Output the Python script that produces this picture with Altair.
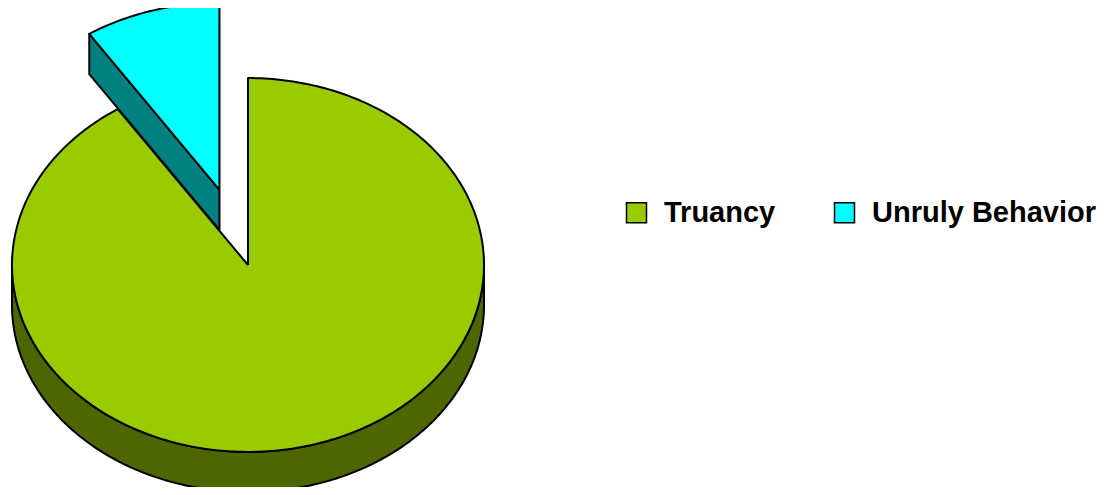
import altair as alt
import numpy as np
import pandas as pd

# ---- data ----
categories = ["Truancy", "Unruly Behavior"]
values = [90.7, 9.3]
top_colors = ["#99CC00", "#00FFFF"]
side_colors = ["#4D6600", "#008080"]
explode = [0.0, 0.42]   # radial pull-out of each slice (fraction of radius)

# ---- 3-D pie styling ----
TILT = 0.792     # vertical squash of the pie's top face
DEPTH = 0.17     # thickness of the pie
STEP = 1.0       # degrees per arc sample


def point(t_deg, cx, cy, drop=0.0):
    t = np.radians(t_deg)
    return cx + np.sin(t), cy + TILT * np.cos(t) - drop


def arc(a0, a1):
    n = max(2, int(abs(a1 - a0) / STEP) + 1)
    return np.linspace(a0, a1, n)


total = float(sum(values))
bounds = np.concatenate([[0.0], np.cumsum(values) / total * 360.0])

top_rows, side_rows = [], []
for k, cat in enumerate(categories):
    s, e = bounds[k], bounds[k + 1]
    mid = np.radians((s + e) / 2.0)
    cx = explode[k] * np.sin(mid)
    cy = explode[k] * TILT * np.cos(mid)

    # top face
    pts = [(cx, cy)] + [point(t, cx, cy) for t in arc(s, e)] + [(cx, cy)]
    for i, (x, y) in enumerate(pts):
        top_rows.append(dict(piece=f"top{k}", category=cat, i=i, x=x, y=y))

    # visible outer rim (front half: 90..270 deg)
    lo, hi = max(s, 90.0), min(e, 270.0)
    pieces = []
    if hi > lo:
        rim = arc(lo, hi)
        p = [point(t, cx, cy) for t in rim] + [point(t, cx, cy, DEPTH) for t in rim[::-1]]
        p.append(p[0])
        pieces.append(p)
    # visible cut faces
    if np.sin(np.radians(s)) < -1e-9:
        p = [(cx, cy), point(s, cx, cy), point(s, cx, cy, DEPTH), (cx, cy - DEPTH), (cx, cy)]
        pieces.append(p)
    if np.sin(np.radians(e)) > 1e-9:
        p = [(cx, cy), point(e, cx, cy), point(e, cx, cy, DEPTH), (cx, cy - DEPTH), (cx, cy)]
        pieces.append(p)
    for j, p in enumerate(pieces):
        for i, (x, y) in enumerate(p):
            side_rows.append(dict(piece=f"side{k}_{j}", category=cat, slice=k, i=i, x=x, y=y))

top_df = pd.DataFrame(top_rows)
side_df = pd.DataFrame(side_rows)

W, H = 1096, 479
UNIT = 236.0
CX, CY = 240.0, 257.0
sx = alt.Scale(domain=[-CX / UNIT, (W - CX) / UNIT], nice=False, zero=False)
sy = alt.Scale(domain=[-(H - CY) / UNIT, CY / UNIT], nice=False, zero=False)

fill_scale = alt.Scale(domain=categories, range=top_colors)
legend = alt.Legend(
    title=None, orient="none", legendX=614, legendY=190, direction="horizontal",
    symbolType="square", symbolSize=400, symbolStrokeColor="black", symbolStrokeWidth=1.5,
    symbolOpacity=1, labelFont="Arial", labelFontWeight="bold", labelFontSize=29,
    labelColor="black", labelOffset=13, columnPadding=54, labelLimit=500, padding=0,
)


def enc(chart, fill):
    return chart.mark_line(stroke="black", strokeWidth=2, strokeJoin="round", clip=False).encode(
        x=alt.X("x:Q", scale=sx, axis=None),
        y=alt.Y("y:Q", scale=sy, axis=None),
        order=alt.Order("i:Q"),
        detail="piece:N",
        fill=fill,
    )


layers = []
for k, cat in enumerate(categories):
    sd = side_df[side_df["slice"] == k]
    if len(sd):
        layers.append(enc(alt.Chart(sd), alt.value(side_colors[k])))
    layers.append(enc(alt.Chart(top_df[top_df["category"] == cat]),
                      alt.Fill("category:N", scale=fill_scale, legend=legend)))

chart = alt.layer(*layers).properties(
    width=W, height=H, padding=0, autosize=alt.AutoSizeParams(type="none"),
    background="white",
).configure_view(stroke=None)

chart.save("out.html", embed_options={"renderer": "svg", "actions": False})
